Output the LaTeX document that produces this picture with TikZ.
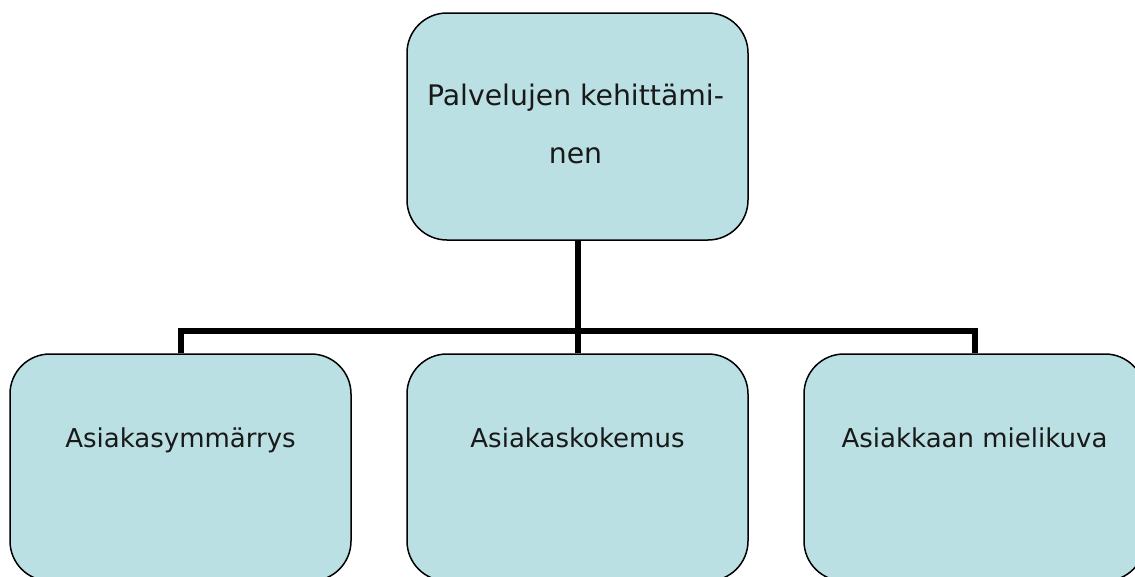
\documentclass[tikz,border=0pt]{standalone}
\usepackage{fontspec}
\setmainfont{DejaVu Sans}
\usetikzlibrary{calc}
\definecolor{boxfill}{HTML}{BBE0E3}
\tikzset{
  box/.style={draw=black, line width=1.5pt, fill=boxfill, rounded corners=40pt,
    minimum width=341pt, minimum height=227pt, inner sep=0pt},
  lbl/.style={font=\fontsize{26}{60}\selectfont, align=center, inner sep=0pt, text=black!90},
  toplbl/.style={lbl, font=\fontsize{28.3}{58}\selectfont},
  conn/.style={draw=black, line width=6pt}
}
\begin{document}
\begin{tikzpicture}[x=1pt,y=-1pt]
\useasboundingbox (0,0) rectangle (1135,576);
\node[box] (top) at (577.5,126.5) {};
\node[box] (b1) at (180.5,467.5) {};
\node[box] (b2) at (577.5,467.5) {};
\node[box] (b3) at (974.5,467.5) {};
\coordinate (j) at (577.5,331);
\draw[conn] (top.south) -- (j);
\draw[conn] (b1.north) |- (j);
\draw[conn] (b3.north) |- (j);
\draw[conn] (b2.north) -- (j);
\node[toplbl, anchor=base] (t0) at ($(top.north)+(-2,151)$) {Palvelujen kehittämi-\\nen};
\node[lbl, anchor=base] (t1) at ($(b1.north)+(0,94)$) {Asiakasymmärrys};
\node[lbl, anchor=base] (t2) at ($(b2.north)+(0,94)$) {Asiakaskokemus};
\node[lbl, anchor=base] (t3) at ($(b3.north)+(0,94)$) {Asiakkaan mielikuva};
\end{tikzpicture}
\end{document}
